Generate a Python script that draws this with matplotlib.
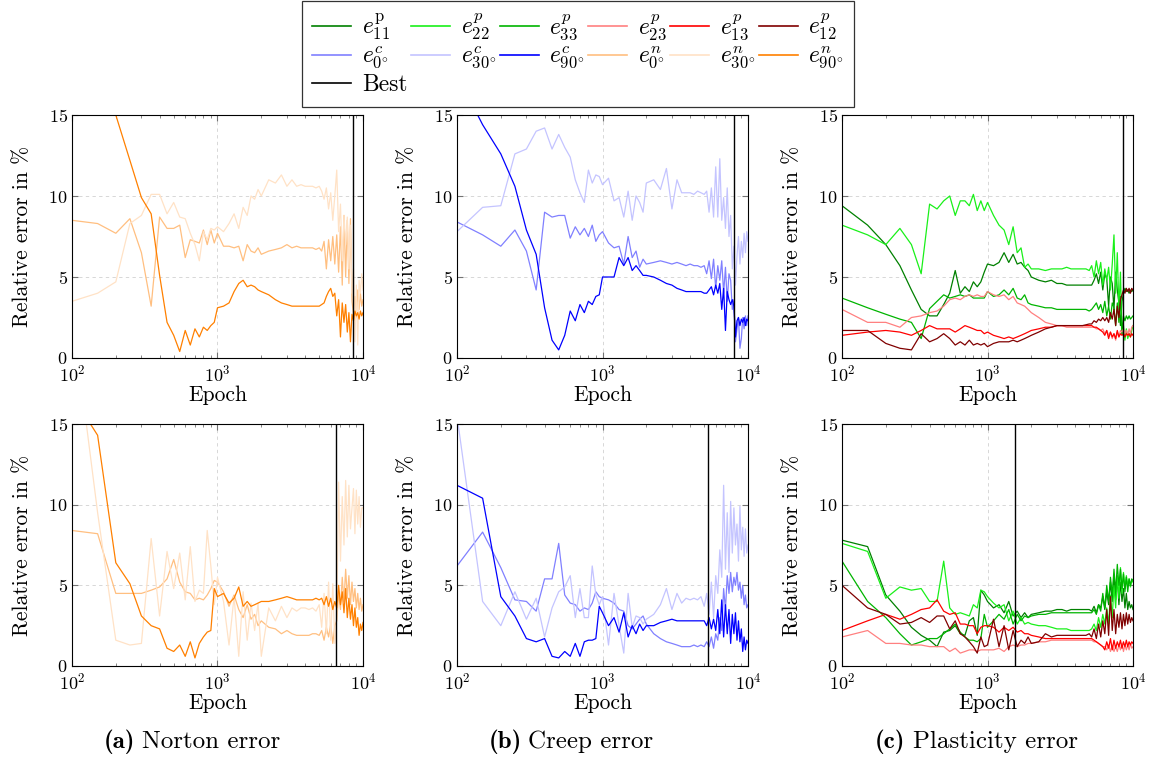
import matplotlib
matplotlib.use('Agg')
import matplotlib.pyplot as plt
from matplotlib.lines import Line2D
from matplotlib.ticker import LogLocator, NullFormatter

plt.rcParams['font.family'] = ['cmr10', 'DejaVu Serif']
plt.rcParams['mathtext.fontset'] = 'cm'
plt.rcParams['axes.formatter.use_mathtext'] = True
plt.rcParams['axes.unicode_minus'] = False

# logged epochs (100..1000 every 50, then coarser, dense again at the end)
EPOCHS = (list(range(100, 1001, 50)) + list(range(1100, 2001, 100))
          + list(range(2250, 5001, 250)) + list(range(5200, 10001, 200)))

# ---- (a) Norton, top ----
N0_TOP = [8.5, 8.3, 7.7, 8.6, 6.5, 3.2, 8.7, 8.0, 8.0, 8.2, 6.2, 7.3, 7.2, 7.1, 7.9, 7.0, 7.9, 7.1, 7.7,
          6.9, 6.9, 6.8, 6.9, 6.0, 7.0, 6.6, 6.5, 6.8, 6.4,
          6.6, 6.7, 6.8, 7.0, 6.8, 6.9, 6.8, 6.8, 6.8, 6.8, 6.7, 6.8,
          6.6, 7.2, 5.5, 7.3, 6.0, 7.5, 5.8, 7.6, 5.3, 8.1, 4.5, 8.8, 5.0, 8.5, 4.6,
          8.6, 3.5, 2.7, 3.8, 2.5, 4.2, 3.0, 4.0, 3.2, 3.6]
N30_TOP = [3.5, 4.0, 4.7, 8.3, 8.8, 10.1, 10.1, 8.9, 9.6, 8.7, 8.6, 7.7, 7.0, 6.0, 7.8, 7.3, 8.0, 7.9, 8.1,
           7.8, 8.3, 8.9, 8.0, 9.3, 8.8, 10.0, 9.8, 10.4, 10.0,
           11.0, 10.8, 11.3, 10.6, 11.0, 10.6, 10.7, 10.6, 10.6, 10.6, 10.5, 10.6,
           10.3, 9.8, 10.5, 9.2, 10.2, 8.5, 10.0, 11.6, 7.8, 9.5, 6.0, 8.8, 7.0, 8.7, 5.5,
           8.2, 4.0, 5.5, 1.0, 4.5, 0.8, 4.8, 4.0, 5.2, 4.2]
N90_TOP = [22.0, 18.0, 15.0, 12.2, 9.9, 8.9, 5.1, 2.2, 1.4, 0.4, 1.7, 0.8, 1.8, 1.3, 1.9, 1.7, 2.0, 2.2, 3.1,
           3.2, 3.4, 4.1, 4.6, 4.8, 4.4, 4.5, 4.4, 4.2, 4.1,
           3.9, 3.6, 3.4, 3.3, 3.2, 3.2, 3.2, 3.2, 3.2, 3.2, 3.2, 3.2,
           3.3, 3.4, 3.8, 4.1, 4.3, 3.8, 4.0, 2.6, 3.6, 1.3, 3.4, 2.2, 3.3, 1.6, 2.8,
           1.0, 2.7, 2.3, 2.9, 2.6, 2.8, 2.4, 2.9, 2.6, 2.8]

# ---- (b) Creep, top ----
C0_TOP = [8.4, 7.6, 6.9, 7.9, 6.6, 4.2, 9.0, 8.7, 8.8, 8.8, 7.4, 8.1, 7.6, 8.0, 7.5, 8.2, 7.2, 7.6, 7.8,
          7.1, 6.8, 6.9, 5.8, 7.5, 6.2, 6.6, 5.6, 6.1, 5.8,
          5.9, 6.0, 5.9, 5.8, 5.9, 5.8, 5.7, 5.8, 5.7, 5.7, 5.6, 5.7,
          5.2, 6.0, 4.9, 6.1, 4.3, 5.7, 4.8, 6.0, 4.0, 5.6, 3.5, 5.2, 4.8, 3.0, 3.6,
          1.0, 1.8, 2.5, 0.6, 1.2, 2.5, 1.8, 2.6, 2.0, 2.6]
C30_TOP = [7.8, 9.3, 9.4, 12.6, 12.9, 14.0, 14.2, 12.9, 13.8, 13.0, 12.4, 11.0, 10.2, 9.6, 11.6, 10.8, 11.3, 11.2, 10.7,
           11.1, 9.7, 9.9, 8.7, 10.3, 8.5, 10.0, 9.6, 9.0, 10.8,
           11.0, 10.4, 11.7, 9.2, 11.0, 10.2, 10.2, 10.2, 10.1, 10.3, 10.2, 10.1,
           10.3, 9.0, 10.5, 8.7, 11.8, 8.7, 12.3, 8.5, 9.9, 8.0, 10.5, 7.5, 8.8, 5.5, 6.9,
           4.5, 6.3, 7.5, 5.8, 7.2, 6.2, 7.7, 6.5, 7.8, 7.2]
C90_TOP = [17.5, 14.4, 12.6, 10.6, 7.9, 6.4, 3.1, 1.1, 0.5, 1.4, 2.9, 2.3, 3.3, 2.8, 3.5, 3.3, 3.8, 3.9, 5.0,
           5.0, 5.0, 6.2, 5.7, 6.2, 5.4, 5.7, 5.4, 5.1, 5.1,
           5.0, 4.8, 4.6, 4.5, 4.3, 4.2, 4.1, 4.1, 4.1, 4.1, 4.1, 4.0,
           4.0, 4.2, 4.4, 3.9, 4.5, 4.0, 4.6, 3.0, 4.3, 1.7, 4.1, 3.6, 3.3, 3.6, 3.2,
           1.3, 2.3, 2.5, 2.0, 2.4, 2.2, 2.5, 2.0, 2.4, 2.3]

# ---- (c) Plasticity, top ----
P11_TOP = [9.4, 8.2, 7.0, 5.7, 4.2, 3.0, 2.6, 2.6, 3.3, 4.0, 5.4, 4.0, 4.4, 4.1, 4.7, 4.4, 4.7, 5.3, 5.8,
           5.7, 5.9, 6.5, 5.9, 6.4, 5.8, 5.9, 5.6, 5.4, 5.0,
           4.8, 4.7, 4.8, 4.6, 4.6, 4.5, 4.5, 4.5, 4.5, 4.5, 4.5, 4.5,
           4.5, 4.8, 5.2, 4.6, 5.3, 4.2, 5.2, 4.9, 3.2, 5.0, 4.6, 3.0, 5.3, 4.2, 3.4,
           2.0, 3.5, 4.0, 4.3, 4.1, 4.2, 4.0, 4.2, 4.1, 4.2]
P22_TOP = [8.2, 7.6, 7.0, 8.0, 7.0, 5.2, 9.5, 9.2, 9.7, 10.0, 8.8, 9.7, 9.7, 9.4, 10.1, 9.1, 9.7, 9.1, 9.6,
           8.8, 8.2, 7.9, 7.0, 8.1, 6.5, 6.8, 5.6, 5.8, 5.5,
           5.5, 5.4, 5.5, 5.5, 5.5, 5.6, 5.5, 5.5, 5.5, 5.5, 5.5, 5.4,
           5.7, 5.0, 6.0, 5.2, 5.9, 4.5, 5.5, 4.8, 5.6, 4.2, 5.8, 7.6, 4.0, 6.5, 3.0,
           5.3, 1.5, 2.0, 1.1, 1.8, 1.2, 1.5, 1.3, 1.7, 2.0]
P33_TOP = [3.7, 3.1, 2.7, 2.4, 2.2, 1.2, 3.05, 3.5, 3.9, 3.7, 3.8, 3.9, 3.8, 3.9, 3.7, 3.7, 3.7, 3.7, 4.1,
           3.8, 3.9, 4.2, 3.9, 4.3, 3.7, 3.6, 3.9, 3.4, 3.3,
           3.2, 3.1, 3.1, 3.0, 3.0, 3.0, 3.0, 3.0, 3.0, 3.0, 3.0, 2.9,
           3.0, 3.2, 3.4, 3.0, 3.3, 2.8, 3.5, 2.6, 3.2, 2.4, 3.4, 3.1, 2.0, 3.4, 2.2,
           3.8, 1.5, 2.6, 2.3, 2.6, 2.4, 2.6, 2.4, 2.5, 2.6]
P23_TOP = [3.0, 2.2, 2.2, 1.9, 2.5, 2.6, 2.8, 2.9, 3.2, 3.6, 3.7, 3.6, 3.8, 3.9, 3.8, 3.9, 3.8, 3.8, 4.1,
           3.9, 3.8, 3.9, 3.6, 3.8, 3.4, 3.3, 3.2, 3.0, 2.8,
           2.5, 2.2, 2.1, 2.0, 2.0, 1.9, 1.9, 1.9, 1.9, 1.9, 1.9, 1.9,
           1.9, 1.9, 1.8, 1.8, 1.7, 1.8, 1.5, 1.7, 1.4, 1.6, 1.2, 1.5, 1.1, 1.6, 1.3,
           1.7, 1.6, 1.8, 1.5, 1.7, 1.4, 1.8, 1.5, 1.9, 2.0]
P13_TOP = [1.4, 1.6, 1.7, 1.6, 1.4, 1.7, 2.0, 1.8, 1.8, 1.8, 1.6, 1.8, 2.0, 1.9, 1.8, 1.7, 1.7, 1.5, 1.6,
           1.4, 1.3, 1.2, 1.3, 1.2, 1.3, 1.4, 1.5, 1.6, 1.7,
           1.8, 1.9, 1.9, 2.0, 2.0, 2.0, 2.0, 2.0, 2.0, 2.0, 2.0, 2.0,
           2.0, 1.9, 1.9, 1.8, 1.7, 1.6, 1.4, 1.7, 1.2, 1.6, 1.3, 1.5, 1.2, 1.7, 1.3,
           1.5, 1.4, 1.5, 1.3, 1.5, 1.4, 1.5, 1.3, 1.5, 1.4]
P12_TOP = [1.7, 1.7, 0.9, 0.6, 0.5, 1.5, 1.0, 1.2, 1.5, 1.2, 0.8, 1.0, 0.8, 1.1, 0.8, 0.9, 0.8, 0.9, 0.7,
           0.9, 1.0, 1.0, 1.0, 1.1, 1.0, 1.1, 1.2, 1.3, 1.4,
           1.6, 1.8, 1.9, 2.0, 2.0, 2.0, 2.0, 2.0, 2.0, 2.0, 2.05, 2.1,
           2.1, 2.3, 2.2, 2.4, 2.3, 2.5, 2.3, 2.5, 2.2, 2.8, 2.4, 3.0, 2.0, 3.2, 2.5,
           3.6, 3.9, 4.2, 4.0, 4.3, 4.1, 4.3, 4.0, 4.3, 4.2]

# ---- (a) Norton, bottom ----
N0_BOT = [8.4, 8.2, 4.5, 4.5, 4.5, 4.7, 4.9, 5.4, 6.6, 5.2, 4.6, 4.5, 4.1, 4.2, 4.1, 4.4, 4.8, 5.3, 5.2,
          4.6, 3.7, 4.4, 3.5, 3.0, 3.8, 2.9, 3.2, 2.5, 2.8,
          2.4, 2.3, 2.0, 2.2, 2.0, 1.9, 1.9, 1.9, 1.9, 2.0, 2.0, 1.9,
          2.2, 1.6, 2.4, 1.8, 2.6, 1.4, 2.5, 2.8, 4.5, 3.5, 5.5, 4.0, 6.0, 4.2, 5.6,
          3.8, 5.2, 4.0, 4.8, 3.6, 4.5, 3.5, 4.2, 3.4, 3.8]
N30_BOT = [22.0, 9.5, 1.6, 1.3, 1.4, 7.9, 3.1, 7.1, 4.8, 7.0, 4.1, 7.4, 4.0, 4.7, 4.5, 8.4, 6.2, 3.8, 5.5,
           4.0, 1.3, 4.3, 0.6, 4.6, 1.6, 3.9, 2.2, 3.9, 0.6,
           3.6, 2.8, 3.7, 3.0, 3.6, 3.4, 3.6, 3.6, 3.5, 3.6, 3.4, 3.8,
           2.4, 4.5, 2.0, 5.2, 1.6, 5.1, 1.4, 3.0, 11.4, 6.5, 10.5, 7.5, 11.5, 8.0, 11.2,
           8.5, 9.8, 11.0, 8.2, 10.9, 8.8, 10.5, 8.6, 9.8, 9.8]
N90_BOT = [16.8, 14.3, 6.4, 5.1, 3.1, 2.5, 2.3, 1.1, 0.9, 1.3, 0.6, 1.5, 0.5, 1.4, 1.8, 2.1, 2.2, 4.8, 4.3,
           4.5, 3.9, 4.2, 4.9, 3.7, 4.0, 3.7, 3.8, 3.9, 4.0,
           4.0, 4.1, 4.2, 4.3, 4.2, 4.1, 4.1, 4.1, 4.1, 4.1, 4.2, 4.1,
           4.2, 3.8, 4.3, 3.7, 4.2, 3.5, 4.0, 3.6, 5.0, 3.8, 4.6, 3.3, 4.8, 3.0, 4.2,
           2.9, 3.8, 2.5, 3.6, 2.4, 3.0, 1.9, 2.6, 2.2, 2.7]

# ---- (b) Creep, bottom ----
C0_BOT = [6.2, 8.3, 6.1, 4.1, 4.0, 3.4, 5.4, 5.4, 7.6, 4.4, 3.9, 3.8, 3.4, 3.6, 3.5, 3.9, 4.6, 4.3, 4.2,
          4.1, 3.9, 3.5, 3.4, 2.5, 2.3, 2.6, 2.9, 3.1, 2.6,
          2.0, 1.7, 1.5, 1.4, 1.3, 1.2, 1.2, 1.2, 1.3, 1.2, 1.3, 1.2,
          1.5, 1.2, 1.8, 1.1, 2.0, 1.6, 3.0, 2.2, 4.8, 3.5, 5.6, 4.5, 5.8, 4.6, 5.5,
          5.0, 5.8, 4.7, 5.2, 4.2, 5.0, 3.8, 4.4, 3.6, 3.8]
C30_BOT = [15.5, 4.0, 2.5, 4.6, 2.9, 4.2, 1.8, 3.6, 4.6, 4.9, 5.6, 3.0, 4.8, 3.0, 3.0, 6.2, 4.4, 3.8, 4.3,
           1.3, 4.5, 2.5, 0.8, 4.5, 2.4, 3.1, 3.0, 2.6, 2.9,
           3.2, 3.8, 4.8, 3.5, 4.5, 3.9, 4.2, 4.1, 4.2, 4.1, 4.3, 3.7,
           4.5, 3.2, 5.2, 3.0, 5.6, 4.5, 7.2, 5.5, 11.2, 6.0, 9.5, 5.8, 10.2, 7.0, 9.8,
           7.5, 8.8, 6.5, 9.9, 7.2, 8.6, 6.8, 8.5, 7.0, 7.5]
C90_BOT = [11.2, 10.4, 4.3, 3.1, 1.7, 1.5, 1.7, 0.6, 0.5, 0.9, 0.6, 1.4, 0.6, 1.5, 1.6, 1.6, 1.7, 3.7, 3.3,
           2.5, 3.0, 2.1, 3.3, 1.8, 2.5, 2.0, 2.6, 2.2, 2.5,
           2.5, 2.7, 2.8, 2.9, 2.8, 2.8, 2.8, 2.8, 2.8, 2.8, 2.8, 2.8,
           2.5, 3.0, 2.3, 2.9, 2.2, 3.5, 2.0, 4.1, 1.8, 3.8, 2.0, 3.5, 1.4, 3.2, 2.0,
           3.3, 1.6, 2.8, 1.5, 2.3, 0.9, 1.8, 1.0, 1.6, 1.4]

# ---- (c) Plasticity, bottom ----
P11_BOT = [7.8, 7.4, 4.4, 3.4, 2.4, 1.9, 1.6, 1.2, 2.1, 2.2, 2.5, 2.0, 1.9, 2.8, 3.0, 1.9, 4.7, 4.4, 4.0,
           3.6, 3.8, 3.3, 4.0, 3.1, 3.4, 3.0, 3.3, 3.0, 3.2,
           3.3, 3.4, 3.4, 3.5, 3.5, 3.4, 3.5, 3.5, 3.5, 3.5, 3.5, 3.5,
           3.4, 3.7, 3.3, 3.8, 3.6, 4.3, 3.5, 4.6, 3.8, 5.2, 4.0, 5.6, 4.1, 5.5, 3.8,
           5.2, 4.0, 4.8, 3.6, 4.5, 3.5, 4.0, 3.6, 3.8, 3.5]
P22_BOT = [7.6, 7.1, 4.2, 4.9, 4.7, 4.8, 4.0, 4.0, 6.5, 3.6, 3.2, 3.3, 3.2, 3.1, 3.8, 3.6, 4.7, 4.6, 4.3,
           3.9, 3.6, 3.8, 2.8, 3.4, 2.6, 3.0, 2.6, 2.7, 2.6,
           2.5, 2.5, 2.4, 2.3, 2.3, 2.3, 2.2, 2.2, 2.2, 2.2, 2.2, 2.2,
           2.3, 2.6, 2.2, 3.0, 2.4, 3.2, 2.6, 3.6, 2.6, 4.4, 3.0, 5.0, 3.6, 5.6, 4.2,
           6.1, 4.5, 5.8, 4.8, 5.6, 5.0, 5.4, 4.9, 5.3, 5.2]
P33_BOT = [6.5, 4.0, 3.0, 2.0, 1.3, 1.5, 1.7, 1.7, 2.0, 2.3, 2.6, 2.1, 1.8, 1.6, 1.6, 1.5, 1.7, 3.2, 2.4,
           2.8, 3.2, 2.9, 3.5, 2.6, 3.2, 2.8, 3.1, 3.0, 3.1,
           3.2, 3.2, 3.3, 3.3, 3.3, 3.3, 3.3, 3.3, 3.3, 3.3, 3.3, 3.3,
           3.3, 3.5, 3.2, 3.8, 3.4, 4.5, 3.6, 5.0, 4.0, 5.5, 4.4, 6.0, 4.6, 6.3, 5.0,
           6.0, 4.8, 5.7, 4.6, 5.5, 4.6, 5.4, 5.0, 5.4, 5.3]
P23_BOT = [1.8, 2.2, 1.4, 1.4, 1.3, 1.3, 1.2, 1.2, 1.2, 0.9, 1.1, 0.8, 0.9, 1.0, 1.0, 0.9, 1.0, 1.0, 1.0,
           1.0, 1.1, 0.9, 1.2, 1.3, 1.2, 1.3, 1.3, 1.4, 1.4,
           1.5, 1.5, 1.6, 1.6, 1.6, 1.6, 1.6, 1.6, 1.6, 1.6, 1.6, 1.6,
           1.6, 1.5, 1.5, 1.4, 1.3, 1.2, 1.2, 1.0, 1.3, 0.9, 1.3, 0.9, 1.2, 0.9, 1.3,
           1.0, 1.4, 0.9, 1.3, 1.0, 1.3, 1.0, 1.4, 1.1, 1.2]
P13_BOT = [2.2, 2.8, 3.2, 2.9, 3.2, 3.5, 3.6, 4.1, 3.4, 3.2, 3.3, 2.6, 2.6, 2.5, 2.5, 2.0, 2.4, 2.5, 2.5,
           2.4, 2.1, 2.4, 2.2, 2.4, 2.1, 2.2, 2.0, 2.0, 1.9,
           1.8, 1.7, 1.7, 1.7, 1.7, 1.7, 1.7, 1.7, 1.7, 1.7, 1.7, 1.7,
           1.7, 1.6, 1.5, 1.4, 1.3, 1.2, 1.0, 1.5, 1.1, 1.7, 1.0, 1.6, 1.1, 1.5, 1.2,
           1.6, 1.1, 1.5, 1.2, 1.6, 1.2, 1.5, 1.3, 1.5, 1.4]
P12_BOT = [5.0, 3.6, 3.2, 2.6, 2.7, 3.0, 2.7, 3.1, 3.1, 2.3, 2.8, 2.0, 1.8, 1.5, 1.2, 0.8, 1.8, 1.2, 1.3,
           2.9, 1.2, 2.5, 1.0, 2.2, 1.2, 1.6, 1.4, 1.8, 1.4,
           1.5, 2.0, 1.8, 1.9, 1.9, 1.9, 1.9, 1.9, 1.9, 1.9, 1.9, 2.0,
           1.8, 2.3, 1.7, 2.6, 1.8, 2.8, 2.0, 3.5, 1.9, 4.3, 2.2, 3.5, 2.0, 3.2, 2.4,
           3.3, 2.3, 3.2, 2.5, 3.3, 2.6, 3.2, 2.7, 3.0, 2.8]

# epoch of the best model, per panel (top row, bottom row)
BEST_TOP = [8500, 8000, 8500]
BEST_BOT = [6500, 5300, 1550]

CAPTIONS = ['Norton error', 'Creep error', 'Plasticity error']
CAPTION_TAGS = ['(a)', '(b)', '(c)']

COLORS = {
    'p11': '#008000', 'p22': '#19f019', 'p33': '#00b400',
    'p23': '#ff8080', 'p13': '#ff0000', 'p12': '#800000',
    'c0': '#8080ff', 'c30': '#c4c4ff', 'c90': '#0000ff',
    'n0': '#ffbf80', 'n30': '#ffe2c6', 'n90': '#ff8000',
}
LABELS = {
    'p11': r'$e^{\mathrm{p}}_{11}$', 'p22': r'$e^{p}_{22}$', 'p33': r'$e^{p}_{33}$',
    'p23': r'$e^{p}_{23}$', 'p13': r'$e^{p}_{13}$', 'p12': r'$e^{p}_{12}$',
    'c0': r'$e^{c}_{0^{\circ}}$', 'c30': r'$e^{c}_{30^{\circ}}$', 'c90': r'$e^{c}_{90^{\circ}}$',
    'n0': r'$e^{n}_{0^{\circ}}$', 'n30': r'$e^{n}_{30^{\circ}}$', 'n90': r'$e^{n}_{90^{\circ}}$',
}

PANELS = [
    [[('n0', N0_TOP), ('n30', N30_TOP), ('n90', N90_TOP)],
     [('c0', C0_TOP), ('c30', C30_TOP), ('c90', C90_TOP)],
     [('p11', P11_TOP), ('p22', P22_TOP), ('p33', P33_TOP),
      ('p23', P23_TOP), ('p13', P13_TOP), ('p12', P12_TOP)]],
    [[('n0', N0_BOT), ('n30', N30_BOT), ('n90', N90_BOT)],
     [('c0', C0_BOT), ('c30', C30_BOT), ('c90', C90_BOT)],
     [('p11', P11_BOT), ('p22', P22_BOT), ('p33', P33_BOT),
      ('p23', P23_BOT), ('p13', P13_BOT), ('p12', P12_BOT)]],
]
BEST = [BEST_TOP, BEST_BOT]

W, H = 1149, 760
fig = plt.figure(figsize=(W / 100, H / 100), dpi=100)

lefts = [72, 457, 842]
rows = [(115, 358), (424, 666)]
for r, (top, bottom) in enumerate(rows):
    for c, left in enumerate(lefts):
        ax = fig.add_axes([left / W, 1 - bottom / H, 291 / W, (bottom - top) / H])
        for key, vals in PANELS[r][c]:
            ax.plot(EPOCHS, vals, color=COLORS[key], lw=0.9)
        ax.axvline(BEST[r][c], color='black', lw=1.0)
        ax.set_xscale('log')
        ax.set_xlim(100, 10000)
        ax.set_ylim(0, 15)
        ax.set_yticks([0, 5, 10, 15])
        ax.xaxis.set_minor_locator(LogLocator(base=10, subs=range(2, 10)))
        ax.xaxis.set_minor_formatter(NullFormatter())
        ax.grid(True, which='major', ls=(0, (4, 4)), color='0.82', lw=0.6)
        ax.set_axisbelow(True)
        ax.tick_params(which='both', direction='in', top=True, right=True, color='0.45')
        ax.tick_params(which='major', length=4, labelsize=13, pad=3)
        ax.tick_params(axis='x', which='major', pad=4)
        ax.tick_params(which='minor', length=2.5)
        for s in ax.spines.values():
            s.set_linewidth(0.8)
        ax.set_xlabel('Epoch', fontsize=15.5, labelpad=1)
        ax.set_ylabel('Relative error in %', fontsize=15.5, labelpad=12)

# captions: bold tag + text, centred under each column
for x, tag, txt in zip([119, 505, 890], CAPTION_TAGS, CAPTIONS):
    fig.text(x / W, 1 - 742 / H, tag, family='cmb10', fontsize=18,
             ha='center', va='center')
    fig.text((x + 23) / W, 1 - 742 / H, txt, fontsize=18, ha='left', va='center')

# legend: row-major layout, matplotlib fills columns first
rows_keys = [['p11', 'p22', 'p33', 'p23', 'p13', 'p12'],
             ['c0', 'c30', 'c90', 'n0', 'n30', 'n90']]
order = []
for ci in range(6):
    order.append(rows_keys[0][ci])
    order.append(rows_keys[1][ci])
    if ci == 0:
        order.append('best')
handles, labels = [], []
for k in order:
    if k == 'best':
        handles.append(Line2D([], [], color='black', lw=1.2))
        labels.append('Best')
    else:
        handles.append(Line2D([], [], color=COLORS[k], lw=1.2))
        labels.append(LABELS[k])
leg = fig.legend(handles, labels, loc='upper center', bbox_to_anchor=(578 / W, 1 - 1 / H),
                 ncol=6, fontsize=17, frameon=True, fancybox=False, edgecolor='black',
                 handlelength=1.65, handletextpad=0.45, columnspacing=0.15, labelspacing=0.12,
                 borderpad=0.45, borderaxespad=0)
leg.get_frame().set_linewidth(0.9)

fig.savefig('out.png', dpi=100)
